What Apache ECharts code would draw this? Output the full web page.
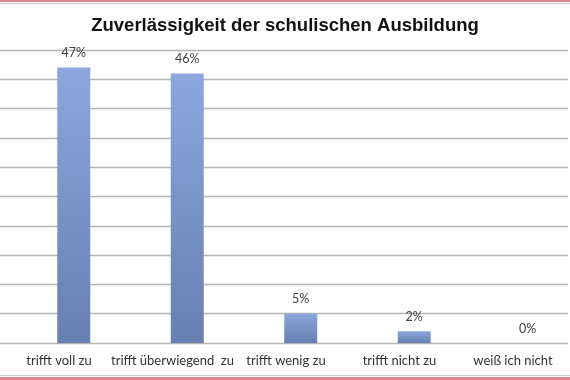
<!DOCTYPE html>
<html><head><meta charset="utf-8">
<script src="https://cdn.jsdelivr.net/npm/echarts@6/dist/echarts.min.js"></script>
<style>html,body{margin:0;padding:0;background:#fff}#c{width:570px;height:380px}</style>
</head><body><div id="c"></div>
<script>
const categories = ["trifft voll zu", "trifft überwiegend  zu", "trifft wenig zu", "trifft nicht zu", "weiß ich nicht"];
const values = [47, 46, 5, 2, 0];
const title = "Zuverlässigkeit der schulischen Ausbildung";
const yMin = 0, yMax = 50, yStep = 5;

const labelShift = -0.13;
const idx = categories.map((c, i) => i + labelShift);
const chart = echarts.init(document.getElementById('c'), null, {renderer: 'canvas'});
chart.setOption({
  animation: false,
  title: {text: title, left: 'center', top: 11,
    textStyle: {fontFamily: 'Liberation Sans, Arial', fontWeight: 'bold', fontSize: 18.5, color: '#111'}},
  graphic: [
    {type: 'rect', shape: {x: 0, y: 0, width: 570, height: 2}, style: {fill: '#d9898c'}},
    {type: 'rect', shape: {x: 0, y: 3, width: 570, height: 1}, style: {fill: '#c9ccd8'}},
    {type: 'rect', shape: {x: 0, y: 375, width: 570, height: 1}, style: {fill: '#c8d8d0'}},
    {type: 'rect', shape: {x: 0, y: 377, width: 570, height: 3}, style: {fill: '#d9898c'}}
  ],
  grid: [
    {left: 0, right: 2, top: 50, bottom: 37},
    {left: 17, right: 0, top: 50, bottom: 37}
  ],
  xAxis: [
    {gridIndex: 0, type: 'value', show: false, min: 0, max: 1},
    {gridIndex: 1, type: 'value', min: -0.5, max: -0.5 + 553 / 113.5,
      axisLine: {show: false}, axisTick: {show: false}, splitLine: {show: false},
      axisLabel: {customValues: idx, formatter: v => categories[Math.round(v)] || '',
        margin: 11, fontFamily: 'Lato, Liberation Sans', fontSize: 13, color: '#333',
        showMinLabel: true, showMaxLabel: true, hideOverlap: false}}
  ],
  yAxis: [
    {gridIndex: 0, type: 'value', min: yMin, max: yMax, interval: yStep,
      axisLine: {show: false}, axisTick: {show: false}, axisLabel: {show: false},
      splitLine: {lineStyle: {color: '#b4b4b4', width: 1.3}}},
    {gridIndex: 1, type: 'value', min: yMin, max: yMax, interval: yStep, show: false, splitLine: {show: false}}
  ],
  series: [{
    type: 'bar', xAxisIndex: 1, yAxisIndex: 1,
    data: values.map((v, i) => [i, v]), barWidth: 33,
    itemStyle: {color: new echarts.graphic.LinearGradient(0, 0, 0, 1, [
      {offset: 0, color: '#8ba7dd'}, {offset: 1, color: '#6680b1'}])},
    label: {show: true, position: 'top', distance: 8, formatter: p => p.value[1] + '%',
      fontFamily: 'Lato, Liberation Sans', fontSize: 12.5, color: '#404040'}
  }]
});
</script></body></html>
